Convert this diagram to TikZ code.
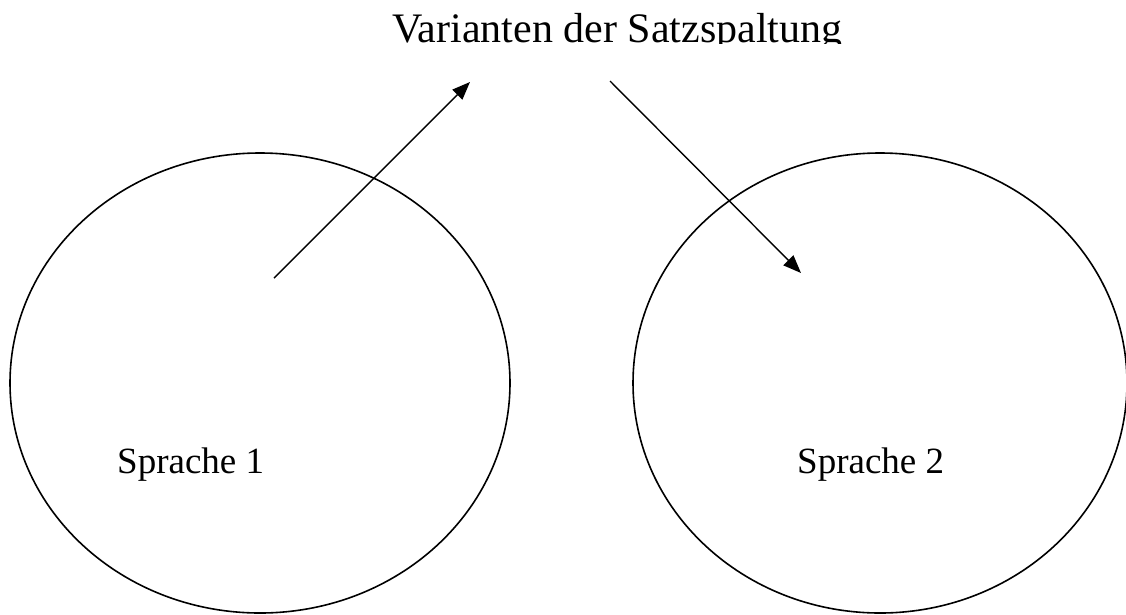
\documentclass[tikz,border=0pt]{standalone}
\usepackage{fontspec}
\setmainfont{Liberation Serif}
\usetikzlibrary{arrows.meta,shapes.geometric}
\begin{document}
\begin{tikzpicture}[x=1pt,y=-1pt,
  oval/.style={draw, line width=1.6pt, ellipse, inner sep=0pt},
  lbl/.style={inner sep=0pt, font=\fontsize{37}{44}\selectfont},
  ttl/.style={inner sep=0pt, font=\fontsize{42}{48}\selectfont},
  conn/.style={draw, line width=1.4pt, -{Triangle[length=18pt,width=14pt]}}]
\useasboundingbox (0,0) rectangle (1126,614);
\node[oval, minimum width=500pt, minimum height=460pt] (lang1) at (260,383) {};
\node[oval, minimum width=494pt, minimum height=460pt] (lang2) at (880,383) {};
\node[lbl, anchor=base west] (s1) at (117,473) {Sprache 1};
\node[lbl, anchor=base west] (s2) at (797,473) {Sprache 2};
\begin{scope}
\clip (0,0) rectangle (1126,43);
\node[ttl, anchor=base west] (title) at (392,42) {Varianten der Satzspaltung};
\end{scope}
\coordinate (a1s) at (274,278);
\coordinate (a1e) at (470,82);
\coordinate (a2s) at (610,81);
\coordinate (a2e) at (801,273);
\draw[conn] (a1s) -- (a1e);
\draw[conn] (a2s) -- (a2e);
\end{tikzpicture}
\end{document}
